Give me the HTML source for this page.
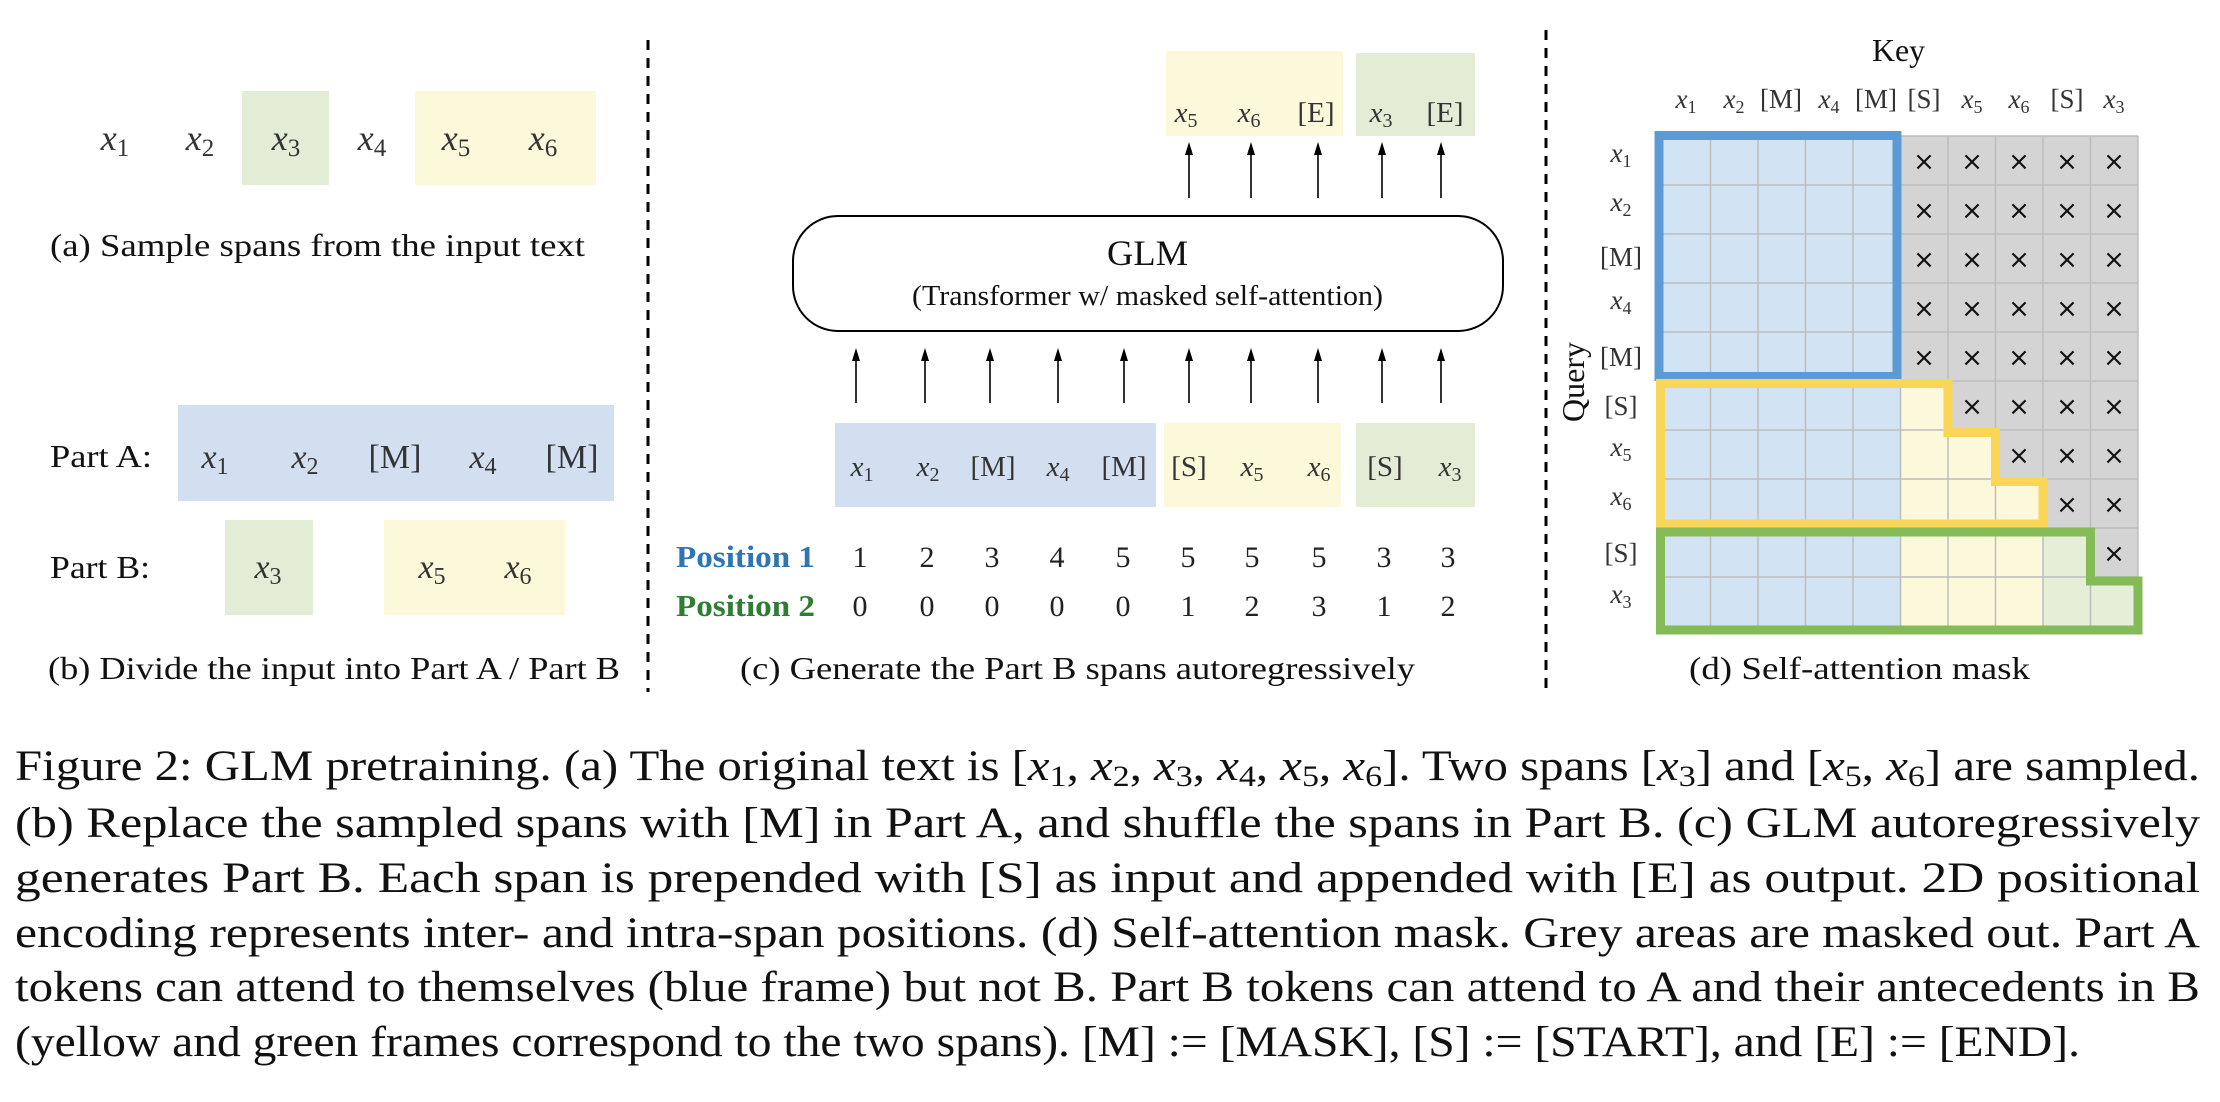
<!DOCTYPE html>
<html><head><meta charset="utf-8"><style>
html,body{margin:0;padding:0;background:#fff;}
body{width:2220px;height:1102px;position:relative;overflow:hidden;font-family:"Liberation Serif",serif;}
svg{position:absolute;left:0;top:0;}
</style></head><body>
<svg width="2220" height="1102" viewBox="0 0 2220 1102" font-family="Liberation Serif, serif">
<!-- dashed separators -->
<line x1="648" y1="40" x2="648" y2="692" stroke="#000" stroke-width="3" stroke-dasharray="10,8"/>
<line x1="1546" y1="30" x2="1546" y2="692" stroke="#000" stroke-width="3" stroke-dasharray="10,8"/>

<!-- panel a -->
<rect x="242" y="91" width="87" height="94" fill="#E3EDD6"/>
<rect x="415" y="91" width="181" height="94" fill="#FBF9DA"/>
<g font-size="36" fill="#333" text-anchor="middle">
<text x="115" y="150"><tspan font-style="italic">x</tspan><tspan font-size="25" dy="6">1</tspan></text>
<text x="200" y="150"><tspan font-style="italic">x</tspan><tspan font-size="25" dy="6">2</tspan></text>
<text x="286" y="150"><tspan font-style="italic">x</tspan><tspan font-size="25" dy="6">3</tspan></text>
<text x="372" y="150"><tspan font-style="italic">x</tspan><tspan font-size="25" dy="6">4</tspan></text>
<text x="456" y="150"><tspan font-style="italic">x</tspan><tspan font-size="25" dy="6">5</tspan></text>
<text x="543" y="150"><tspan font-style="italic">x</tspan><tspan font-size="25" dy="6">6</tspan></text>
</g>
<text x="50" y="256" font-size="32" fill="#111" textLength="535" lengthAdjust="spacingAndGlyphs">(a)  Sample spans from the input text</text>

<!-- panel b -->
<rect x="178" y="405" width="436" height="96" fill="#D1DFF1"/>
<rect x="225" y="520" width="88" height="95" fill="#E3EDD6"/>
<rect x="384" y="520" width="181" height="95" fill="#FBF9DA"/>
<text x="50" y="467" font-size="32" fill="#111" textLength="102" lengthAdjust="spacingAndGlyphs">Part A:</text>
<text x="50" y="578" font-size="32" fill="#111" textLength="100" lengthAdjust="spacingAndGlyphs">Part B:</text>
<g font-size="34" fill="#333" text-anchor="middle">
<text x="215" y="468"><tspan font-style="italic">x</tspan><tspan font-size="24" dy="6">1</tspan></text>
<text x="305" y="468"><tspan font-style="italic">x</tspan><tspan font-size="24" dy="6">2</tspan></text>
<text x="395" y="468">[M]</text>
<text x="483" y="468"><tspan font-style="italic">x</tspan><tspan font-size="24" dy="6">4</tspan></text>
<text x="572" y="468">[M]</text>
<text x="268" y="578"><tspan font-style="italic">x</tspan><tspan font-size="24" dy="6">3</tspan></text>
<text x="432" y="578"><tspan font-style="italic">x</tspan><tspan font-size="24" dy="6">5</tspan></text>
<text x="518" y="578"><tspan font-style="italic">x</tspan><tspan font-size="24" dy="6">6</tspan></text>
</g>
<text x="48" y="679" font-size="32" fill="#111" textLength="572" lengthAdjust="spacingAndGlyphs">(b)  Divide the input into Part A / Part B</text>

<!-- panel c -->
<rect x="1166" y="51" width="177" height="85" fill="#FBF9DA"/>
<rect x="1356" y="53" width="119" height="83" fill="#E3EDD6"/>
<g font-size="29" fill="#333" text-anchor="middle">
<text x="1186" y="122"><tspan font-style="italic">x</tspan><tspan font-size="20" dy="5">5</tspan></text>
<text x="1249" y="122"><tspan font-style="italic">x</tspan><tspan font-size="20" dy="5">6</tspan></text>
<text x="1316" y="122">[E]</text>
<text x="1381" y="122"><tspan font-style="italic">x</tspan><tspan font-size="20" dy="5">3</tspan></text>
<text x="1445" y="122">[E]</text>
</g>
<g stroke="#000" stroke-width="1.6">
<line x1="1189" y1="198" x2="1189" y2="150"/>
<line x1="1251" y1="198" x2="1251" y2="150"/>
<line x1="1318" y1="198" x2="1318" y2="150"/>
<line x1="1382" y1="198" x2="1382" y2="150"/>
<line x1="1441" y1="198" x2="1441" y2="150"/>
<line x1="856" y1="403" x2="856" y2="356"/>
<line x1="925" y1="403" x2="925" y2="356"/>
<line x1="990" y1="403" x2="990" y2="356"/>
<line x1="1058" y1="403" x2="1058" y2="356"/>
<line x1="1124" y1="403" x2="1124" y2="356"/>
<line x1="1189" y1="403" x2="1189" y2="356"/>
<line x1="1251" y1="403" x2="1251" y2="356"/>
<line x1="1318" y1="403" x2="1318" y2="356"/>
<line x1="1382" y1="403" x2="1382" y2="356"/>
<line x1="1441" y1="403" x2="1441" y2="356"/>
</g>
<g fill="#000">
<path d="M1185,155 L1189,142 L1193,155 Z"/>
<path d="M1247,155 L1251,142 L1255,155 Z"/>
<path d="M1314,155 L1318,142 L1322,155 Z"/>
<path d="M1378,155 L1382,142 L1386,155 Z"/>
<path d="M1437,155 L1441,142 L1445,155 Z"/>
<path d="M852,361 L856,348 L860,361 Z"/>
<path d="M921,361 L925,348 L929,361 Z"/>
<path d="M986,361 L990,348 L994,361 Z"/>
<path d="M1054,361 L1058,348 L1062,361 Z"/>
<path d="M1120,361 L1124,348 L1128,361 Z"/>
<path d="M1185,361 L1189,348 L1193,361 Z"/>
<path d="M1247,361 L1251,348 L1255,361 Z"/>
<path d="M1314,361 L1318,348 L1322,361 Z"/>
<path d="M1378,361 L1382,348 L1386,361 Z"/>
<path d="M1437,361 L1441,348 L1445,361 Z"/>
</g>
<rect x="793" y="216" width="710" height="115" rx="45" ry="45" fill="#fff" stroke="#000" stroke-width="2"/>
<text x="1107" y="265" font-size="36" fill="#111" textLength="81" lengthAdjust="spacingAndGlyphs">GLM</text>
<text x="912" y="305" font-size="28" fill="#111" textLength="471" lengthAdjust="spacingAndGlyphs">(Transformer w/ masked self-attention)</text>
<rect x="835" y="423" width="321" height="84" fill="#D1DFF1"/>
<rect x="1164" y="423" width="177" height="84" fill="#FBF9DA"/>
<rect x="1356" y="423" width="119" height="84" fill="#E3EDD6"/>
<g font-size="29" fill="#333" text-anchor="middle">
<text x="862" y="476"><tspan font-style="italic">x</tspan><tspan font-size="20" dy="5">1</tspan></text>
<text x="928" y="476"><tspan font-style="italic">x</tspan><tspan font-size="20" dy="5">2</tspan></text>
<text x="993" y="476">[M]</text>
<text x="1058" y="476"><tspan font-style="italic">x</tspan><tspan font-size="20" dy="5">4</tspan></text>
<text x="1124" y="476">[M]</text>
<text x="1189" y="476">[S]</text>
<text x="1252" y="476"><tspan font-style="italic">x</tspan><tspan font-size="20" dy="5">5</tspan></text>
<text x="1319" y="476"><tspan font-style="italic">x</tspan><tspan font-size="20" dy="5">6</tspan></text>
<text x="1385" y="476">[S]</text>
<text x="1450" y="476"><tspan font-style="italic">x</tspan><tspan font-size="20" dy="5">3</tspan></text>
</g>
<text x="676" y="567" font-size="31" font-weight="bold" fill="#2E75B6" textLength="139" lengthAdjust="spacingAndGlyphs">Position 1</text>
<text x="676" y="616" font-size="31" font-weight="bold" fill="#2E7D32" textLength="139" lengthAdjust="spacingAndGlyphs">Position 2</text>
<g font-size="30" fill="#222" text-anchor="middle">
<text x="860" y="567">1</text><text x="927" y="567">2</text><text x="992" y="567">3</text><text x="1057" y="567">4</text><text x="1123" y="567">5</text><text x="1188" y="567">5</text><text x="1252" y="567">5</text><text x="1319" y="567">5</text><text x="1384" y="567">3</text><text x="1448" y="567">3</text>
<text x="860" y="616">0</text><text x="927" y="616">0</text><text x="992" y="616">0</text><text x="1057" y="616">0</text><text x="1123" y="616">0</text><text x="1188" y="616">1</text><text x="1252" y="616">2</text><text x="1319" y="616">3</text><text x="1384" y="616">1</text><text x="1448" y="616">2</text>
</g>
<text x="740" y="679" font-size="32" fill="#111" textLength="675" lengthAdjust="spacingAndGlyphs">(c)  Generate the Part B spans autoregressively</text>

<!-- panel d -->
<rect x="1663" y="136" width="475" height="490" fill="#D4D4D4"/>
<rect x="1663" y="136" width="237.5" height="490" fill="#D2E4F4"/>
<rect x="1900.5" y="381" width="47.5" height="245" fill="#FBF8DC"/>
<rect x="1948" y="430" width="47.5" height="196" fill="#FBF8DC"/>
<rect x="1995.5" y="479" width="47.5" height="147" fill="#FBF8DC"/>
<rect x="2043" y="528" width="47.5" height="98" fill="#E5EED6"/>
<rect x="2090.5" y="577" width="47.5" height="49" fill="#E5EED6"/>
<g stroke="#BDBDBD" stroke-width="1.5">
<line x1="1710.5" y1="136" x2="1710.5" y2="626"/><line x1="1758" y1="136" x2="1758" y2="626"/><line x1="1805.5" y1="136" x2="1805.5" y2="626"/><line x1="1853" y1="136" x2="1853" y2="626"/><line x1="1900.5" y1="136" x2="1900.5" y2="626"/><line x1="1948" y1="136" x2="1948" y2="626"/><line x1="1995.5" y1="136" x2="1995.5" y2="626"/><line x1="2043" y1="136" x2="2043" y2="626"/><line x1="2090.5" y1="136" x2="2090.5" y2="626"/><line x1="2138" y1="136" x2="2138" y2="626"/>
<line x1="1663" y1="136" x2="2138" y2="136"/><line x1="1663" y1="185" x2="2138" y2="185"/><line x1="1663" y1="234" x2="2138" y2="234"/><line x1="1663" y1="283" x2="2138" y2="283"/><line x1="1663" y1="332" x2="2138" y2="332"/><line x1="1663" y1="381" x2="2138" y2="381"/><line x1="1663" y1="430" x2="2138" y2="430"/><line x1="1663" y1="479" x2="2138" y2="479"/><line x1="1663" y1="528" x2="2138" y2="528"/><line x1="1663" y1="577" x2="2138" y2="577"/>
</g>
<g font-size="26" text-anchor="middle" fill="#111" font-family="DejaVu Sans, sans-serif">
<text x="1924" y="170">×</text><text x="1972" y="170">×</text><text x="2019" y="170">×</text><text x="2067" y="170">×</text><text x="2114" y="170">×</text>
<text x="1924" y="219">×</text><text x="1972" y="219">×</text><text x="2019" y="219">×</text><text x="2067" y="219">×</text><text x="2114" y="219">×</text>
<text x="1924" y="268">×</text><text x="1972" y="268">×</text><text x="2019" y="268">×</text><text x="2067" y="268">×</text><text x="2114" y="268">×</text>
<text x="1924" y="317">×</text><text x="1972" y="317">×</text><text x="2019" y="317">×</text><text x="2067" y="317">×</text><text x="2114" y="317">×</text>
<text x="1924" y="366">×</text><text x="1972" y="366">×</text><text x="2019" y="366">×</text><text x="2067" y="366">×</text><text x="2114" y="366">×</text>
<text x="1972" y="415">×</text><text x="2019" y="415">×</text><text x="2067" y="415">×</text><text x="2114" y="415">×</text>
<text x="2019" y="464">×</text><text x="2067" y="464">×</text><text x="2114" y="464">×</text>
<text x="2067" y="513">×</text><text x="2114" y="513">×</text>
<text x="2114" y="562">×</text>
</g>
<rect x="1659" y="135.5" width="238" height="241" fill="none" stroke="#5B9BD5" stroke-width="9"/>
<path d="M1660.5,383.5 H1948 V432.5 H1995.5 V481.5 H2043 V524 H1660.5 Z" fill="none" stroke="#FAD658" stroke-width="9"/>
<path d="M1660.5,532 H2090.5 V581 H2138 V630 H1660.5 Z" fill="none" stroke="#84BB56" stroke-width="9"/>
<text x="1872" y="61" font-size="32" fill="#111" textLength="53" lengthAdjust="spacingAndGlyphs">Key</text>
<g font-size="27" fill="#333" text-anchor="middle">
<text x="1686" y="108"><tspan font-style="italic">x</tspan><tspan font-size="18" dy="5">1</tspan></text>
<text x="1734" y="108"><tspan font-style="italic">x</tspan><tspan font-size="18" dy="5">2</tspan></text>
<text x="1781" y="108">[M]</text>
<text x="1829" y="108"><tspan font-style="italic">x</tspan><tspan font-size="18" dy="5">4</tspan></text>
<text x="1876" y="108">[M]</text>
<text x="1924" y="108">[S]</text>
<text x="1972" y="108"><tspan font-style="italic">x</tspan><tspan font-size="18" dy="5">5</tspan></text>
<text x="2019" y="108"><tspan font-style="italic">x</tspan><tspan font-size="18" dy="5">6</tspan></text>
<text x="2067" y="108">[S]</text>
<text x="2114" y="108"><tspan font-style="italic">x</tspan><tspan font-size="18" dy="5">3</tspan></text>
</g>
<g font-size="27" fill="#333" text-anchor="middle">
<text x="1621" y="162"><tspan font-style="italic">x</tspan><tspan font-size="18" dy="5">1</tspan></text>
<text x="1621" y="211"><tspan font-style="italic">x</tspan><tspan font-size="18" dy="5">2</tspan></text>
<text x="1621" y="266">[M]</text>
<text x="1621" y="309"><tspan font-style="italic">x</tspan><tspan font-size="18" dy="5">4</tspan></text>
<text x="1621" y="366">[M]</text>
<text x="1621" y="415">[S]</text>
<text x="1621" y="456"><tspan font-style="italic">x</tspan><tspan font-size="18" dy="5">5</tspan></text>
<text x="1621" y="505"><tspan font-style="italic">x</tspan><tspan font-size="18" dy="5">6</tspan></text>
<text x="1621" y="562">[S]</text>
<text x="1621" y="603"><tspan font-style="italic">x</tspan><tspan font-size="18" dy="5">3</tspan></text>
</g>
<text x="0" y="0" font-size="32" text-anchor="middle" fill="#111" transform="translate(1584,382) rotate(-90)">Query</text>
<text x="1689" y="679" font-size="32" fill="#111" textLength="341" lengthAdjust="spacingAndGlyphs">(d)  Self-attention mask</text>

<!-- caption -->
<g font-size="43" fill="#111">
<text x="15" y="780" textLength="2185" lengthAdjust="spacingAndGlyphs">Figure 2: GLM pretraining. (a) The original text is [<tspan font-style="italic">x</tspan><tspan font-size="30" dy="6">1</tspan><tspan dy="-6">, </tspan><tspan font-style="italic">x</tspan><tspan font-size="30" dy="6">2</tspan><tspan dy="-6">, </tspan><tspan font-style="italic">x</tspan><tspan font-size="30" dy="6">3</tspan><tspan dy="-6">, </tspan><tspan font-style="italic">x</tspan><tspan font-size="30" dy="6">4</tspan><tspan dy="-6">, </tspan><tspan font-style="italic">x</tspan><tspan font-size="30" dy="6">5</tspan><tspan dy="-6">, </tspan><tspan font-style="italic">x</tspan><tspan font-size="30" dy="6">6</tspan><tspan dy="-6">]. Two spans [</tspan><tspan font-style="italic">x</tspan><tspan font-size="30" dy="6">3</tspan><tspan dy="-6">] and [</tspan><tspan font-style="italic">x</tspan><tspan font-size="30" dy="6">5</tspan><tspan dy="-6">, </tspan><tspan font-style="italic">x</tspan><tspan font-size="30" dy="6">6</tspan><tspan dy="-6">] are sampled.</tspan></text>
<text x="15" y="837" textLength="2185" lengthAdjust="spacingAndGlyphs">(b) Replace the sampled spans with [M] in Part A, and shuffle the spans in Part B. (c) GLM autoregressively</text>
<text x="15" y="892" textLength="2185" lengthAdjust="spacingAndGlyphs">generates Part B. Each span is prepended with [S] as input and appended with [E] as output.  2D positional</text>
<text x="15" y="947" textLength="2185" lengthAdjust="spacingAndGlyphs">encoding represents inter- and intra-span positions.  (d) Self-attention mask. Grey areas are masked out. Part A</text>
<text x="15" y="1001" textLength="2185" lengthAdjust="spacingAndGlyphs">tokens can attend to themselves (blue frame) but not B. Part B tokens can attend to A and their antecedents in B</text>
<text x="15" y="1056" textLength="2065" lengthAdjust="spacingAndGlyphs">(yellow and green frames correspond to the two spans). [M] := [MASK], [S] := [START], and [E] := [END].</text>
</g>
</svg>
</body></html>
